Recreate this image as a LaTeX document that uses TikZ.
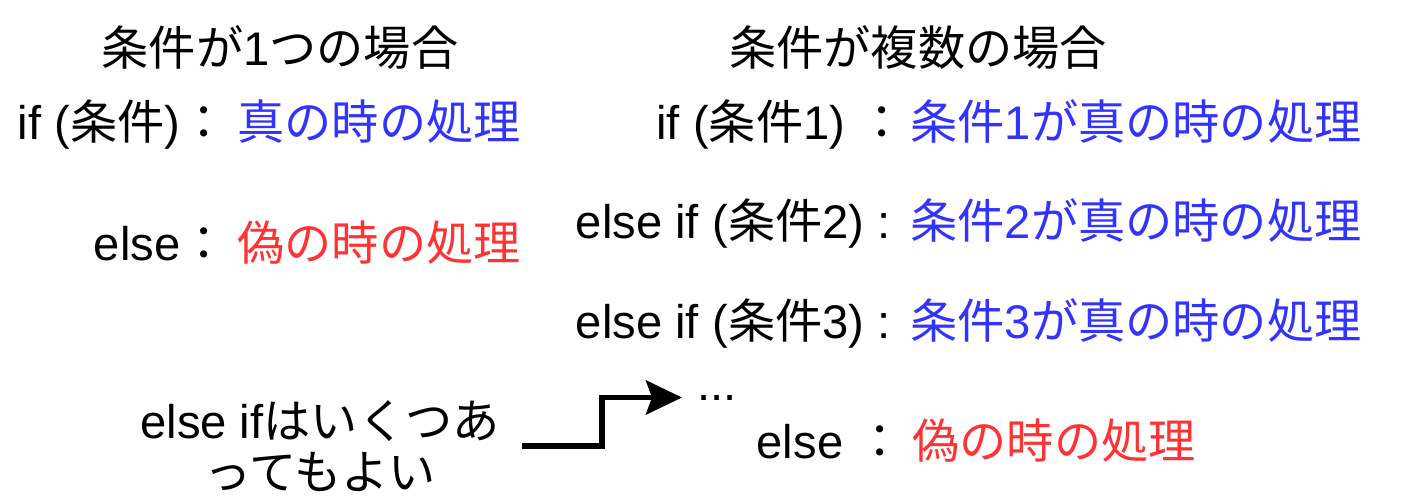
\documentclass[tikz,border=0pt]{standalone}
\usepackage{fontspec}
\setmainfont{Liberation Sans}
\newfontfamily\jpfont{Noto Sans CJK JP}
\usepackage{tikz}
\usetikzlibrary{positioning, arrows.meta}
\definecolor{truecol}{HTML}{3333FF}
\definecolor{falsecol}{HTML}{FF3333}
\newcommand{\ja}[1]{{\jpfont #1}}
\tikzset{
  txt/.style      = {inner sep=0pt, font=\fontsize{23.6}{25.5}\selectfont},
  cond/.style     = {txt, anchor=base east},
  truetxt/.style  = {txt, text=truecol},
  falsetxt/.style = {txt, text=falsecol},
  arr/.style      = {-{Stealth[length=18pt,width=17pt,inset=3pt]}, line width=2.75pt},
}

\begin{document}
\begin{tikzpicture}[x=0.5pt, y=-0.5pt]
  \useasboundingbox (0,0) rectangle (1408,500);

  % ----- LEFT: one condition -----
  \node[txt, anchor=base] (lhd) at (280,65) {\ja{条件が}1\ja{つの場合}};

  \node[cond] (lif) at (228,139) {if (\ja{条件})\ja{：}};
  \node[truetxt, base right=4.5pt of lif] (ltrue) {\ja{真の時の処理}};

  \node[cond] (lelse) at (228,260) {else\ja{：}};
  \node[falsetxt, base right=4.5pt of lelse] (lfalse) {\ja{偽の時の処理}};

  % ----- RIGHT: several conditions -----
  \node[txt, anchor=base] (rhd) at (918,65) {\ja{条件が複数の場合}};

  \node[cond] (rif) at (906,139) {if (\ja{条件}1) \ja{：}};
  \node[truetxt, base right=2pt of rif] (rtrue1) {\ja{条件}1\ja{が真の時の処理}};

  \node[cond] (relif2) at (891,238) {else if (\ja{条件}2) :};
  \node[truetxt, base right=9.5pt of relif2] (rtrue2) {\ja{条件}2\ja{が真の時の処理}};

  \node[cond] (relif3) at (891,338) {else if (\ja{条件}3) :};
  \node[truetxt, base right=9.5pt of relif3] (rtrue3) {\ja{条件}3\ja{が真の時の処理}};

  \node[txt, inner xsep=7.5pt, anchor=base west] (rdots) at (682,400) {...};

  \node[cond] (relse) at (904,458) {else \ja{：}};
  \node[falsetxt, base right=4pt of relse] (rfalse) {\ja{偽の時の処理}};

  % ----- note with arrow -----
  \node[txt, align=center, inner xsep=11pt] (note) at (320,446)
       {else if\ja{はいくつあ}\\\ja{ってもよい}};

  \draw[arr] (note.east) -- ++(80,0) |- (rdots.west);

\end{tikzpicture}
\end{document}
